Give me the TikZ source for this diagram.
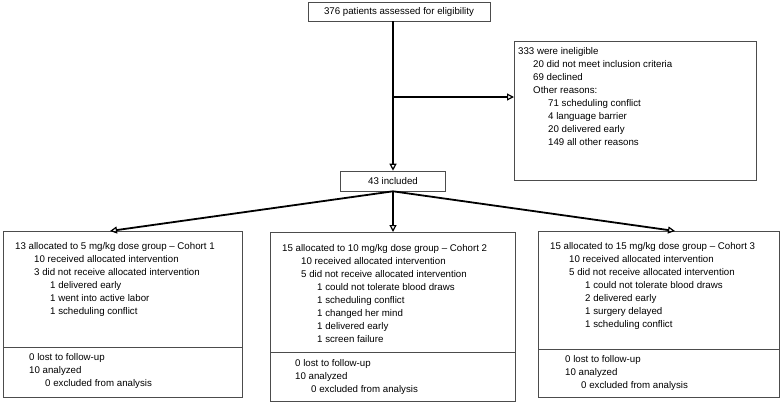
\documentclass[tikz,border=0pt]{standalone}
\usepackage{fontspec}
\setmainfont{Liberation Sans}
\usetikzlibrary{arrows.meta}

\tikzset{
  box/.style={draw=black!70, line width=0.6pt},
  txt/.style={anchor=north west, inner sep=0pt, align=left, font=\fontsize{9.7}{13}\selectfont},
  flow/.style={line width=1.8pt, -{Triangle[open,length=7pt,width=7pt,line width=1.2pt]}},
}
\newcommand{\ia}{\hspace*{19pt}}
\newcommand{\ib}{\hspace*{35pt}}

\begin{document}
\begin{tikzpicture}[x=1pt,y=-1pt]
\useasboundingbox (0,0) rectangle (781,402);
% top boxes
\node[box, minimum width=182pt, minimum height=19pt, font=\fontsize{9.7}{13}\selectfont] (assessed) at (399,11.5) {376 patients assessed for eligibility};
\draw[box] (514,41) rectangle (756,180);
\node[txt] (inelig) at (518,47) {333 were ineligible\\
\hspace*{15pt}20 did not meet inclusion criteria\\
\hspace*{15pt}69 declined\\
\hspace*{15pt}Other reasons:\\
\hspace*{30pt}71 scheduling conflict\\
\hspace*{30pt}4 language barrier\\
\hspace*{30pt}20 delivered early\\
\hspace*{30pt}149 all other reasons};
\node[box, minimum width=105pt, minimum height=20pt, font=\fontsize{9.7}{13}\selectfont] (incl) at (393,181) {43 included};
\coordinate (split) at (393,97);
\coordinate (ineligw) at (514,97);
\draw[line width=1.8pt] (393,21) -- (split);
\draw[flow] (split) -- (incl.north);
\draw[flow] (split) -- (ineligw);

% cohort boxes
\draw[box] (3,231) rectangle (242,397);
\draw[box] (3,347) -- (242,347);
\draw[box] (270,232) rectangle (515,401);
\draw[box] (270,352) -- (515,352);
\draw[box] (538,231) rectangle (779,397);
\draw[box] (538,349) -- (779,349);
\coordinate (c1) at (110,231);
\coordinate (c2) at (393,232);
\coordinate (c3) at (675,231);
\draw[flow] (incl.south) -- (c1);
\draw[flow] (incl.south) -- (c2);
\draw[flow] (incl.south) -- (c3);

\node[txt] (cohortA) at (15,242) {13 allocated to 5 mg/kg dose group -- Cohort 1\\
\ia10 received allocated intervention\\
\ia3 did not receive allocated intervention\\
\ib1 delivered early\\
\ib1 went into active labor\\
\ib1 scheduling conflict};
\node[txt] (followA) at (29,353) {0 lost to follow-up\\
10 analyzed\\
\hspace*{16pt}0 excluded from analysis};

\node[txt] (cohortB) at (282,244) {15 allocated to 10 mg/kg dose group -- Cohort 2\\
\ia10 received allocated intervention\\
\ia5 did not receive allocated intervention\\
\ib1 could not tolerate blood draws\\
\ib1 scheduling conflict\\
\ib1 changed her mind\\
\ib1 delivered early\\
\ib1 screen failure};
\node[txt] (followB) at (295,359) {0 lost to follow-up\\
10 analyzed\\
\hspace*{16pt}0 excluded from analysis};

\node[txt] (cohortC) at (550,242) {15 allocated to 15 mg/kg dose group -- Cohort 3\\
\ia10 received allocated intervention\\
\ia5 did not receive allocated intervention\\
\ib1 could not tolerate blood draws\\
\ib2 delivered early\\
\ib1 surgery delayed\\
\ib1 scheduling conflict};
\node[txt] (followC) at (565,355) {0 lost to follow-up\\
10 analyzed\\
\hspace*{16pt}0 excluded from analysis};
\end{tikzpicture}
\end{document}
